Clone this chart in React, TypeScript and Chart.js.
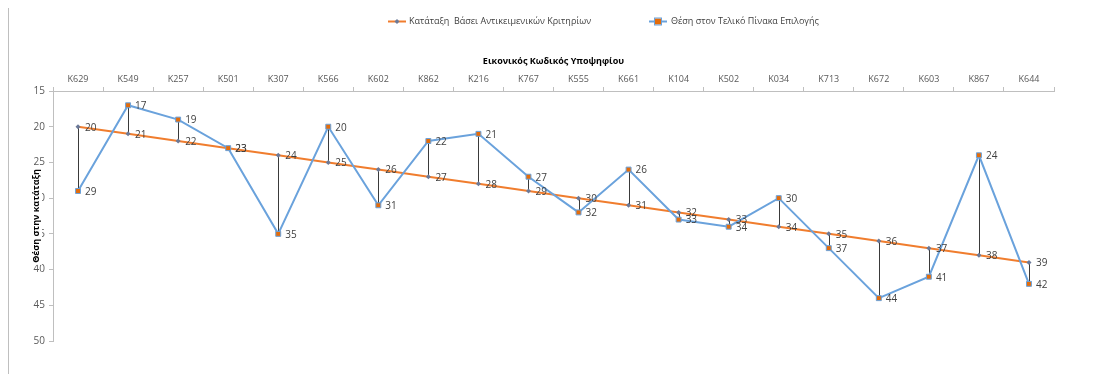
import React, { useEffect, useRef } from "react";
import { Chart, registerables } from "chart.js";

Chart.register(...registerables);

const categories = [
  "K629", "K549", "K257", "K501", "K307", "K566", "K602", "K862", "K216", "K767",
  "K555", "K661", "K104", "K502", "K034", "K713", "K672", "K603", "K867", "K644",
];
const objectiveRank = [20, 21, 22, 23, 24, 25, 26, 27, 28, 29, 30, 31, 32, 33, 34, 35, 36, 37, 38, 39];
const finalPosition = [29, 17, 19, 23, 35, 20, 31, 22, 21, 27, 32, 26, 33, 34, 30, 37, 44, 41, 24, 42];
const yMin = 15;
const yMax = 50;
const yStep = 5;

const seriesNames = ["Κατάταξη  Βάσει Αντικειμενικών Κριτηρίων", "Θέση στον Τελικό Πίνακα Επιλογής"];
const xTitle = "Εικονικός Κωδικός Υποψηφίου";
const yTitle = "Θέση στην κατάταξη";

const ORANGE = "#F07D2E";
const BLUE = "#6AA2DC";
const MARKER_FILL = "#E46C0A";
const SMALL_MARKER = "#6B7A99";
const TEXT = "#404040";
const AXIS = "#BFBFBF";
const FONT = "'Open Sans', 'Noto Sans', sans-serif";

const frame = {
  id: "frame",
  beforeDraw(chart: any) {
    const ctx = chart.ctx;
    ctx.save();
    ctx.strokeStyle = "#BFBFBF";
    ctx.lineWidth = 1;
    ctx.beginPath();
    ctx.moveTo(0.5, 0);
    ctx.lineTo(0.5, chart.height);
    ctx.stroke();
    ctx.restore();
  },
};

const hiLo = {
  id: "hiLo",
  beforeDatasetsDraw(chart: any) {
    const a = chart.getDatasetMeta(0).data;
    const b = chart.getDatasetMeta(1).data;
    const ctx = chart.ctx;
    ctx.save();
    ctx.strokeStyle = "#3A3A3A";
    ctx.lineWidth = 1;
    for (let i = 0; i < a.length; i++) {
      const x = Math.round(a[i].x) + 0.5;
      ctx.beginPath();
      ctx.moveTo(x, a[i].y);
      ctx.lineTo(x, b[i].y);
      ctx.stroke();
    }
    ctx.restore();
  },
};

const valueLabels = {
  id: "valueLabels",
  afterDatasetsDraw(chart: any) {
    const ctx = chart.ctx;
    ctx.save();
    ctx.font = `10px ${FONT}`;
    ctx.fillStyle = TEXT;
    ctx.textAlign = "left";
    ctx.textBaseline = "middle";
    chart.data.datasets.forEach((ds: any, di: number) => {
      const meta = chart.getDatasetMeta(di);
      meta.data.forEach((pt: any, i: number) => {
        ctx.fillText(String(ds.data[i]), pt.x + 7, pt.y + 1);
      });
    });
    ctx.restore();
  },
};

const customLegend = {
  id: "customLegend",
  afterDraw(chart: any) {
    const ctx = chart.ctx;
    ctx.save();
    const y = 13.5;
    ctx.lineWidth = 2;
    // item 1
    ctx.strokeStyle = ORANGE;
    ctx.beginPath();
    ctx.moveTo(380, y);
    ctx.lineTo(398, y);
    ctx.stroke();
    ctx.fillStyle = SMALL_MARKER;
    ctx.beginPath();
    ctx.moveTo(389, y - 2.5);
    ctx.lineTo(391.5, y);
    ctx.lineTo(389, y + 2.5);
    ctx.lineTo(386.5, y);
    ctx.closePath();
    ctx.fill();
    // item 2
    ctx.strokeStyle = BLUE;
    ctx.beginPath();
    ctx.moveTo(641, y);
    ctx.lineTo(659, y);
    ctx.stroke();
    ctx.fillStyle = MARKER_FILL;
    ctx.fillRect(647, y - 3, 6, 6);
    ctx.strokeStyle = BLUE;
    ctx.lineWidth = 1;
    ctx.strokeRect(646.5, y - 3.5, 7, 7);
    ctx.font = `9px ${FONT}`;
    ctx.fillStyle = TEXT;
    ctx.textAlign = "left";
    ctx.textBaseline = "middle";
    ctx.fillText(seriesNames[0], 401, y);
    ctx.fillText(seriesNames[1], 663, y);
    ctx.restore();
  },
};

const yAxisTitle = {
  id: "yAxisTitle",
  afterDraw(chart: any) {
    const ctx = chart.ctx;
    const area = chart.chartArea;
    ctx.save();
    ctx.translate(28, (area.top + area.bottom) / 2);
    ctx.rotate(-Math.PI / 2);
    ctx.font = `bold 9px ${FONT}`;
    const w = ctx.measureText(yTitle).width;
    ctx.fillStyle = "#FFFFFF";
    ctx.fillRect(-w / 2 - 2, -6, w + 4, 12);
    ctx.fillStyle = "#000000";
    ctx.textAlign = "center";
    ctx.textBaseline = "middle";
    ctx.fillText(yTitle, 0, 0);
    ctx.restore();
  },
};

export default function App() {
  const ref = useRef<HTMLCanvasElement | null>(null);

  useEffect(() => {
    if (!ref.current) return;
    const chart = new Chart(ref.current, {
      type: "line",
      data: {
        labels: categories,
        datasets: [
          {
            label: seriesNames[0],
            data: objectiveRank,
            borderColor: ORANGE,
            backgroundColor: SMALL_MARKER,
            borderWidth: 2,
            pointStyle: "rectRot",
            pointRadius: 2.5,
            pointBorderWidth: 0,
            pointBackgroundColor: SMALL_MARKER,
            tension: 0,
            order: 2,
          },
          {
            label: seriesNames[1],
            data: finalPosition,
            borderColor: BLUE,
            backgroundColor: MARKER_FILL,
            borderWidth: 2,
            pointStyle: "rect",
            pointRadius: 3.5,
            pointBorderWidth: 1,
            pointBorderColor: BLUE,
            pointBackgroundColor: MARKER_FILL,
            tension: 0,
            order: 1,
          },
        ],
      },
      options: {
        animation: false,
        responsive: false,
        maintainAspectRatio: false,
        layout: { padding: { top: 40, right: 64, bottom: 33, left: 0 } },
        plugins: {
          legend: { display: false },
          tooltip: { enabled: false },
        },
        scales: {
          x: {
            position: "top",
            offset: true,
            grid: {
              offset: true,
              drawOnChartArea: false,
              drawTicks: true,
              tickLength: 4,
              color: AXIS,
            },
            border: { display: true, color: AXIS },
            ticks: {
              color: "#595959",
              font: { family: FONT, size: 9 },
              padding: 2,
              maxRotation: 0,
              autoSkip: false,
            },
            title: {
              display: true,
              text: xTitle,
              color: "#000000",
              font: { family: FONT, size: 9, weight: "bold" },
              padding: { top: 8, bottom: 0 },
            },
            afterFit: (s: any) => {
              s.height = 43;
            },
          },
          y: {
            reverse: true,
            min: yMin,
            max: yMax,
            grid: {
              drawOnChartArea: false,
              drawTicks: true,
              tickLength: 4,
              color: AXIS,
            },
            border: { display: true, color: AXIS },
            ticks: {
              stepSize: yStep,
              color: "#595959",
              font: { family: FONT, size: 10 },
              padding: 4,
            },
            afterFit: (s: any) => {
              s.width = 45;
            },
          },
        },
      },
      plugins: [frame, hiLo, valueLabels, customLegend, yAxisTitle],
    } as any);
    return () => chart.destroy();
  }, []);

  return (
    <div style={{ width: 1110, height: 366 }}>
      <canvas ref={ref} width={1110} height={366} style={{ display: "block", width: 1110, height: 366 }} />
    </div>
  );
}
